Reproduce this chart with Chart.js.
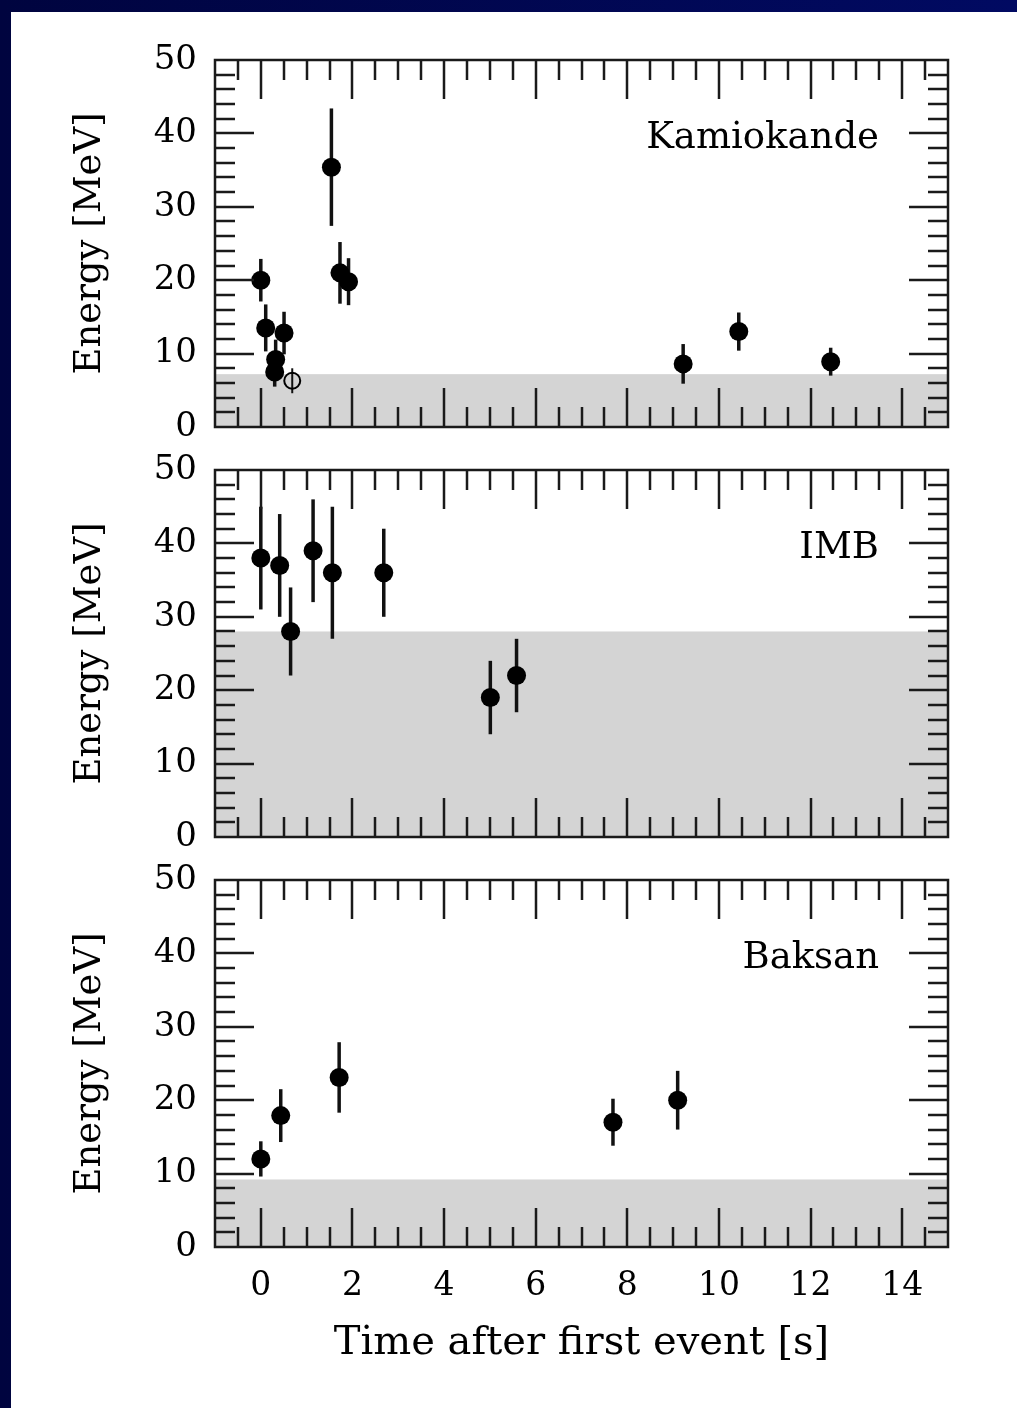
<!DOCTYPE html>
<html lang="en">
<head>
  <meta charset="UTF-8" />
  <title>SN 1987A neutrino events</title>
  <script src="https://cdn.jsdelivr.net/npm/chart.js"></script>
  <style>
    html, body { margin: 0; padding: 0; }
    body {
      width: 1017px; height: 1408px; position: relative; overflow: hidden;
      background: linear-gradient(90deg, #00043f, #010a62);
    }
    .hoja { position: absolute; left: 11px; top: 12px; right: 0; bottom: 0; background: #fff; }
    canvas { position: absolute; left: 60px; }
    #panelKam { top: 40px; }
    #panelImb { top: 450px; }
    #panelBak { top: 860px; }
  </style>
</head>
<body>
<div class="hoja"></div>
<canvas id="panelKam" width="920" height="400"></canvas>
<canvas id="panelImb" width="920" height="400"></canvas>
<canvas id="panelBak" width="920" height="540"></canvas>

<script>
// Kamiokande-II
const kamTiempo  = [0, 0.107, 0.303, 0.324, 0.507, 0.686, 1.541, 1.728, 1.915, 9.219, 10.433, 12.439];
const kamEnergia = [20.0, 13.5, 7.5, 9.2, 12.8, 6.3, 35.4, 21.0, 19.8, 8.6, 13.0, 8.9];
const kamError   = [2.9, 3.2, 2.0, 2.7, 2.9, 1.7, 8.0, 4.2, 3.2, 2.7, 2.6, 1.9];
const kamHueco   = [0, 0, 0, 0, 0, 1, 0, 0, 0, 0, 0, 0];

// IMB
const imbTiempo  = [0, 0.412, 0.650, 1.141, 1.562, 2.684, 5.010, 5.582];
const imbEnergia = [38, 37, 28, 39, 36, 36, 19, 22];
const imbError   = [7, 7, 6, 7, 9, 6, 5, 5];

// Baksan
const bakTiempo  = [0, 0.435, 1.710, 7.687, 9.099];
const bakEnergia = [12.0, 17.9, 23.1, 17.0, 20.0];
const bakError   = [2.4, 3.6, 4.8, 3.2, 4.0];

// zona sombreada (umbral de deteccion) por panel
const umbrales = [7.2, 28, 9.2];
const nombres = ['Kamiokande', 'IMB', 'Baksan'];

const ticksX = [0, 2, 4, 6, 8, 10, 12, 14];
const ticksY = [0, 10, 20, 30, 40, 50];

const FUENTE = "'DejaVu Serif', serif";

const sombra = {
  id: 'sombra',
  beforeDatasetsDraw(chart, args, opts) {
    const { ctx, chartArea: { left, right, bottom }, scales: { y } } = chart;
    const yTop = y.getPixelForValue(opts.umbral);
    ctx.save();
    ctx.fillStyle = '#d4d4d4';
    ctx.fillRect(left, yTop, right - left, bottom - yTop);
    ctx.restore();
  }
};

const barrasError = {
  id: 'barrasError',
  beforeDatasetsDraw(chart, args, opts) {
    const { ctx, scales: { x, y } } = chart;
    const pts = chart.data.datasets[0].data;
    ctx.save();
    ctx.strokeStyle = '#111';
    pts.forEach((p, i) => {
      const px = x.getPixelForValue(p.x);
      ctx.lineWidth = opts.huecos[i] ? 2 : 3.5;
      ctx.beginPath();
      ctx.moveTo(px, y.getPixelForValue(p.y + opts.errores[i]));
      ctx.lineTo(px, y.getPixelForValue(p.y - opts.errores[i]));
      ctx.stroke();
    });
    ctx.restore();
  }
};

// marco con ticks hacia dentro en los cuatro lados
const marco = {
  id: 'marco',
  afterDatasetsDraw(chart) {
    const { ctx, chartArea: { left, right, top, bottom }, scales: { x, y } } = chart;
    const largo = 39, corto = 20;
    ctx.save();
    ctx.strokeStyle = '#1a1a1a';
    ctx.lineWidth = 2.5;
    ctx.beginPath();
    for (let k = -1; k <= 29; k++) {
      const v = k / 2;
      const px = Math.round(x.getPixelForValue(v));
      const l = (k % 4 === 0) ? largo : corto;
      ctx.moveTo(px, top); ctx.lineTo(px, top + l);
      ctx.moveTo(px, bottom); ctx.lineTo(px, bottom - l);
    }
    for (let v = 2; v < 50; v += 2) {
      const py = Math.round(y.getPixelForValue(v));
      const l = (v % 10 === 0) ? largo : corto;
      ctx.moveTo(left, py); ctx.lineTo(left + l, py);
      ctx.moveTo(right, py); ctx.lineTo(right - l, py);
    }
    ctx.stroke();
    ctx.strokeRect(left, top, right - left, bottom - top);
    ctx.restore();
  }
};

const etiqueta = {
  id: 'etiqueta',
  afterDraw(chart, args, opts) {
    const { ctx, chartArea: { right, top } } = chart;
    ctx.save();
    ctx.font = '37px ' + FUENTE;
    ctx.fillStyle = '#000';
    ctx.textAlign = 'right';
    ctx.textBaseline = 'alphabetic';
    ctx.fillText(opts.texto, right - 69, top + 88);
    ctx.restore();
  }
};

function crearPanel(id, tiempos, energias, errores, huecos, umbral, nombre, conEjeX) {
  return new Chart(document.getElementById(id), {
    type: 'scatter',
    data: {
      datasets: [{
        data: tiempos.map((t, i) => ({ x: t, y: energias[i] })),
        pointRadius: huecos.map(h => h ? 8 : 9.5),
        pointHoverRadius: huecos.map(h => h ? 8 : 9.5),
        pointBackgroundColor: huecos.map(h => h ? 'rgba(0,0,0,0)' : '#000'),
        pointBorderColor: '#000',
        pointBorderWidth: huecos.map(h => h ? 2 : 0)
      }]
    },
    options: {
      responsive: false,
      animation: false,
      layout: { padding: { top: 20, right: 32, bottom: conEjeX ? 0 : 13, left: 0 } },
      plugins: {
        legend: { display: false },
        tooltip: { enabled: false },
        sombra: { umbral },
        barrasError: { errores, huecos },
        etiqueta: { texto: nombre }
      },
      scales: {
        x: {
          type: 'linear', min: -1, max: 15, display: conEjeX,
          grid: { display: false, drawTicks: false }, border: { display: false },
          afterBuildTicks: s => { s.ticks = ticksX.map(v => ({ value: v })); },
          afterFit: s => {
            s.height = conEjeX ? 153 : 0;
            s.paddingLeft = 0; s.paddingRight = 0;
          },
          ticks: { color: '#000', font: { family: FUENTE, size: 33 }, padding: 20, maxRotation: 0, autoSkip: false },
          title: {
            display: true, text: 'Time after first event [s]', color: '#000',
            font: { family: FUENTE, size: 40 }, padding: { top: 0, bottom: 32 }
          }
        },
        y: {
          type: 'linear', min: 0, max: 50,
          grid: { display: false, drawTicks: false }, border: { display: false },
          afterBuildTicks: s => { s.ticks = ticksY.map(v => ({ value: v })); },
          afterFit: s => {
            s.width = 155;
            s.paddingTop = 0; s.paddingBottom = 0;
          },
          ticks: { color: '#000', font: { family: FUENTE, size: 34 }, padding: 18, autoSkip: false },
          title: {
            display: true, text: 'Energy [MeV]', color: '#000',
            font: { family: FUENTE, size: 37 }, padding: { top: 8, bottom: 0 }
          }
        }
      }
    },
    plugins: [sombra, barrasError, marco, etiqueta]
  });
}

const sinHuecos = n => new Array(n).fill(0);

crearPanel('panelKam', kamTiempo, kamEnergia, kamError, kamHueco, umbrales[0], nombres[0], false);
crearPanel('panelImb', imbTiempo, imbEnergia, imbError, sinHuecos(imbTiempo.length), umbrales[1], nombres[1], false);
crearPanel('panelBak', bakTiempo, bakEnergia, bakError, sinHuecos(bakTiempo.length), umbrales[2], nombres[2], true);
</script>
</body>
</html>
